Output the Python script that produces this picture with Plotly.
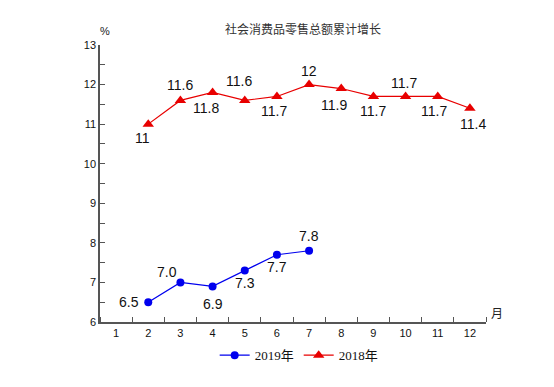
import plotly.graph_objects as go

months = list(range(1, 13))
month_labels = [str(m) for m in months]

x2019 = [2, 3, 4, 5, 6, 7]
y2019 = [6.5, 7.0, 6.9, 7.3, 7.7, 7.8]
t2019 = ["6.5", "7.0", "6.9", "7.3", "7.7", "7.8"]

x2018 = [2, 3, 4, 5, 6, 7, 8, 9, 10, 11, 12]
y2018 = [11, 11.6, 11.8, 11.6, 11.7, 12, 11.9, 11.7, 11.7, 11.7, 11.4]
t2018 = ["11", "11.6", "11.8", "11.6", "11.7", "12", "11.9", "11.7", "11.7", "11.7", "11.4"]

# label offsets (px) for data labels
off2019 = [(-19, 0), (-13, 10), (0, -18), (0, -12), (0, -12), (0, 15)]
off2018 = [(-6, -14), (0, 15), (-7, -16), (-6, 19), (-3, -15), (0, 14),
           (-7, -16), (0, -15), (-2, 13), (-4, -15), (3, -16)]

BLUE = "#0000EE"
RED = "#E80000"

fig = go.Figure()
fig.add_trace(go.Scatter(
    x=x2019, y=y2019, mode="lines+markers", name="2019年",
    line=dict(color=BLUE, width=1.2),
    marker=dict(symbol="circle", size=8, color=BLUE),
))
fig.add_trace(go.Scatter(
    x=x2018, y=y2018, mode="lines+markers", name="2018年",
    line=dict(color=RED, width=1.2),
    marker=dict(symbol="triangle-up", size=10, color=RED),
))

annotations = []
for x, y, t, (dx, dy) in zip(x2019, y2019, t2019, off2019):
    annotations.append(dict(x=x, y=y, text=t, showarrow=False, xshift=dx, yshift=dy,
                            font=dict(family="Liberation Sans, Arial", size=14, color="#111")))
for x, y, t, (dx, dy) in zip(x2018, y2018, t2018, off2018):
    annotations.append(dict(x=x, y=y, text=t, showarrow=False, xshift=dx, yshift=dy,
                            font=dict(family="Liberation Sans, Arial", size=14, color="#111")))

annotations.append(dict(xref="paper", yref="paper", x=0.526, y=1.058, xanchor="center", yanchor="middle",
                        text="社会消费品零售总额累计增长",
                        showarrow=False, font=dict(family="Noto Sans CJK SC", size=12, color="#333")))
annotations.append(dict(xref="paper", yref="paper", x=0.012, y=1.052, xanchor="center", yanchor="middle",
                        text="%",
                        showarrow=False, font=dict(family="Liberation Sans, Arial", size=11, color="#222")))
annotations.append(dict(xref="paper", yref="paper", x=1.028, y=0.035, xanchor="center", yanchor="middle",
                        text="月",
                        showarrow=False, font=dict(family="Noto Sans CJK SC", size=12, color="#222")))

axis_col = "#555555"
fig.update_layout(
    width=554, height=387,
    margin=dict(l=92, r=76, t=37, b=73),
    paper_bgcolor="white", plot_bgcolor="white",
    showlegend=True,
    legend=dict(orientation="h", x=0.516, xanchor="center", y=-0.12, yanchor="middle",
                font=dict(family="Liberation Serif, Noto Sans CJK SC", size=13, color="#111"),
                itemwidth=30, bgcolor="rgba(0,0,0,0)"),
    annotations=annotations,
    xaxis=dict(range=[0.5, 12.5], tickvals=months, ticktext=month_labels,
               showgrid=False, zeroline=False, showline=True, linecolor=axis_col, linewidth=1.5,
               ticks="", tickfont=dict(family="Liberation Sans, Arial", size=11, color="#111"),
               minor=dict(ticks="inside", tick0=0.5, dtick=1, ticklen=5, tickcolor=axis_col, tickwidth=1.2),
               fixedrange=True),
    yaxis=dict(range=[6, 13], tickvals=[6, 7, 8, 9, 10, 11, 12, 13],
               showgrid=False, zeroline=False, showline=True, linecolor=axis_col, linewidth=1.5,
               ticks="inside", ticklen=5, tickcolor=axis_col, tickwidth=1.2,
               tickfont=dict(family="Liberation Sans, Arial", size=11, color="#111"),
               minor=dict(ticks="inside", tick0=6.5, dtick=1, ticklen=5, tickcolor=axis_col, tickwidth=1.2),
               fixedrange=True),
)

fig.write_html("out.html")
